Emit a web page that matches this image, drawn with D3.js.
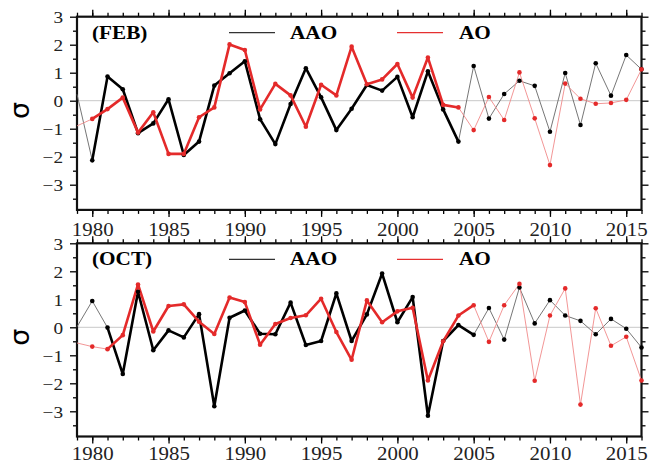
<!DOCTYPE html>
<html><head><meta charset="utf-8">
<script src="https://cdn.jsdelivr.net/npm/d3@7/dist/d3.min.js"></script>
<style>body{margin:0;background:#fff}svg{display:block}</style>
</head><body>
<script>
const years = d3.range(1979, 2017);
const febAAO = [0.23,-2.13,0.86,0.41,-1.16,-0.81,0.05,-1.94,-1.46,0.54,0.98,1.41,-0.66,-1.55,-0.12,1.16,0.12,-1.05,-0.29,0.56,0.36,0.85,-0.59,1.05,-0.31,-1.46,1.24,-0.64,0.24,0.71,0.53,-1.11,0.99,-0.87,1.34,0.18,1.63,1.12];
const febAO = [-0.9,-0.65,-0.3,0.11,-1.14,-0.41,-1.9,-1.9,-0.59,-0.24,2.01,1.81,-0.31,0.6,0.19,-0.93,0.57,0.19,1.93,0.59,0.76,1.31,0.11,1.54,-0.15,-0.24,-1.05,0.13,-0.69,1.01,-0.63,-2.3,0.61,0.07,-0.11,-0.08,0.03,1.12];
const octAAO = [0.02,0.94,-0.01,-1.67,1.27,-0.82,-0.11,-0.36,0.47,-2.82,0.34,0.6,-0.23,-0.25,0.88,-0.63,-0.49,1.21,-0.49,0.46,1.92,0.18,1.08,-3.16,-0.49,0.08,-0.27,0.69,-0.44,1.42,0.14,0.97,0.42,0.23,-0.25,0.3,-0.05,-0.72];
const octAO = [-0.56,-0.69,-0.78,-0.28,1.53,-0.15,0.76,0.82,0.2,-0.24,1.06,0.9,-0.62,0.12,0.33,0.43,1.02,-0.17,-1.16,0.96,0.18,0.57,0.7,-1.9,-0.5,0.42,0.79,-0.52,0.79,1.55,-1.91,0.42,1.39,-2.76,0.68,-0.66,-0.34,-1.9];
const yTicks = [-3,-2,-1,0,1,2,3];
const xTicks = [1980,1985,1990,1995,2000,2005,2010,2015];
const panels = [
  {label:"(FEB)", aao:febAAO, ao:febAO, thick:[1980,2004], top:16.7, labOff:12.8},
  {label:"(OCT)", aao:octAAO, ao:octAO, thick:[1981,2005], top:243.3, labOff:10.2}
];
const seriesNames = ["AAO","AO"];

const W=655,H=464, L=77, R=641.5, PH=193.2;
const svg = d3.select("body").append("svg").attr("width",W).attr("height",H);
const x = d3.scaleLinear().domain([1979,2016]).range([L,R]);
const serif = "'Liberation Serif','Times New Roman',serif";

panels.forEach(p=>{
  const y = d3.scaleLinear().domain([-3.9,3]).range([p.top+PH, p.top]);
  const g = svg.append("g");
  g.append("line").attr("x1",L).attr("x2",R).attr("y1",y(0)).attr("y2",y(0))
    .attr("stroke","#c8c8c8").attr("stroke-width",1);
  const minorY = d3.range(-3.5,3,1);
  const mkAxis = (gen, scale, major, minor, tf, labels) => {
    const a = g.append("g").attr("transform",tf);
    a.call(gen(scale).tickValues(minor).tickSize(4).tickFormat(""));
    const b = g.append("g").attr("transform",tf);
    b.call(gen(scale).tickValues(major).tickSize(7).tickPadding(3).tickFormat(labels? d3.format("d"):""));
    [a,b].forEach(s=>{s.select(".domain").remove(); s.selectAll("line").attr("stroke","#000").attr("stroke-width",1.3);});
    return b;
  };
  const ly = mkAxis(d3.axisLeft, y, yTicks, minorY, `translate(${L},0)`, true);
  ly.selectAll("text").attr("font-family",serif).attr("font-size",17.5).attr("fill","#222")
    .text(d=> d<0 ? "\u2212"+Math.abs(d) : d).attr("x",-12.7).attr("dy","0.34em")
    .attr("transform","scale(1.1,1)");
  mkAxis(d3.axisRight, y, yTicks, minorY, `translate(${R},0)`, false);
  mkAxis(d3.axisTop, x, xTicks, d3.range(1979,2017), `translate(0,${y(3)})`, false);
  const bx = mkAxis(d3.axisBottom, x, xTicks, d3.range(1979,2017), `translate(0,${y(-3.9)})`, true);
  bx.selectAll("text").attr("font-family",serif).attr("font-size",18.5).attr("fill","#222")
    .attr("y",p.labOff).attr("dy","0.71em").attr("transform","scale(1.13,1)");
  g.append("rect").attr("x",L).attr("y",y(3)).attr("width",R-L).attr("height",y(-3.9)-y(3))
    .attr("fill","none").attr("stroke","#111").attr("stroke-width",2.2);
  g.append("text").attr("transform",`translate(29,${y(-0.35)}) rotate(-90)`)
    .attr("text-anchor","middle").attr("font-family","'DejaVu Sans',sans-serif").attr("font-size",27)
    .text("σ");
  const tb = y(3)+22;
  g.append("text").attr("x",92).attr("y",tb).attr("font-family",serif).attr("font-weight","bold")
    .attr("font-size",18).attr("transform",`translate(92,0) scale(1.18,1) translate(-92,0)`).text(p.label);
  const leg = [{n:seriesNames[0],c:"#333",x1:229,tx:290},{n:seriesNames[1],c:"#e53030",x1:397,tx:459}];
  leg.forEach(l=>{
    g.append("line").attr("x1",l.x1).attr("x2",l.x1+46).attr("y1",tb-6).attr("y2",tb-6)
      .attr("stroke",l.c).attr("stroke-width",1.2);
    g.append("text").attr("x",l.tx).attr("y",tb).attr("font-family",serif).attr("font-weight","bold")
      .attr("font-size",18).attr("transform",`translate(${l.tx},0) scale(1.18,1) translate(${-l.tx},0)`).text(l.n);
  });
  const line = d3.line().x(d=>x(d[0])).y(d=>y(d[1]));
  const sets = [{v:p.aao, thin:"#666", thick:"#000", dot:"#000"},{v:p.ao, thin:"#f08a8a", thick:"#e42a2a", dot:"#e42a2a"}];
  sets.forEach(s=>{
    const pts = years.map((yr,i)=>[yr,s.v[i]]);
    g.append("path").attr("d",line(pts)).attr("fill","none").attr("stroke",s.thin).attr("stroke-width",0.9);
  });
  sets.forEach(s=>{
    const pts = years.map((yr,i)=>[yr,s.v[i]]).filter(d=>d[0]>=p.thick[0]&&d[0]<=p.thick[1]);
    g.append("path").attr("d",line(pts)).attr("fill","none").attr("stroke",s.thick).attr("stroke-width",2.6)
      .attr("stroke-linejoin","round");
  });
  sets.forEach(s=>{
    g.selectAll(null).data(years.map((yr,i)=>[yr,s.v[i]]).filter(d=>d[0]>1979)).enter().append("circle")
      .attr("cx",d=>x(d[0])).attr("cy",d=>y(d[1])).attr("r",2.3).attr("fill",s.dot);
  });
});
</script>
</body></html>
